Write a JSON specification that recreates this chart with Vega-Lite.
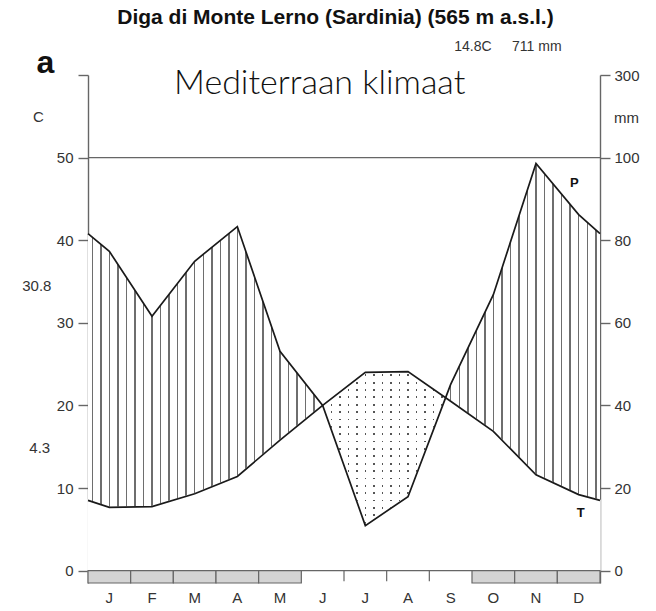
{
"$schema": "https://vega.github.io/schema/vega-lite/v6.json",
"width": 512, "height": 508,
"autosize": "none",
"padding": {"left": 88, "top": 75, "right": 56, "bottom": 28},
"background": "white",
"config": {"view": {"stroke": null}},
"datasets": {
 "main": [
  {"m": 0, "T": 8.5, "P": 81.6},
  {"m": 0.5, "T": 7.65, "P": 77.3},
  {"m": 1.5, "T": 7.75, "P": 61.6},
  {"m": 2.5, "T": 9.3, "P": 74.9},
  {"m": 3.5, "T": 11.4, "P": 83.3},
  {"m": 4.5, "T": 15.8, "P": 53.1},
  {"m": 5.5, "T": 20.0, "P": 40.0},
  {"m": 6.5, "T": 24.0, "P": 10.9},
  {"m": 7.5, "T": 24.1, "P": 17.9},
  {"m": 8.5, "T": 20.5, "P": 45.1},
  {"m": 9.5, "T": 16.85, "P": 66.8},
  {"m": 10.5, "T": 11.6, "P": 98.6},
  {"m": 11.5, "T": 9.2, "P": 86.2},
  {"m": 12, "T": 8.5, "P": 81.6}
 ],
 "arid": [
  {"m": 5.5, "T": 20.0, "P": 40.0},
  {"m": 6.5, "T": 24.0, "P": 10.9},
  {"m": 7.5, "T": 24.1, "P": 17.9},
  {"m": 8.38, "T": 20.93, "P": 41.86}
 ],
 "humid": [
  {"seg": "a", "m": 0, "T": 8.5},
  {"seg": "a", "m": 0.5, "T": 7.65},
  {"seg": "a", "m": 1.5, "T": 7.75},
  {"seg": "a", "m": 2.5, "T": 9.3},
  {"seg": "a", "m": 3.5, "T": 11.4},
  {"seg": "a", "m": 4.5, "T": 15.8},
  {"seg": "a", "m": 5.5, "T": 20.0},
  {"seg": "b", "m": 8.38, "T": 20.93},
  {"seg": "b", "m": 8.5, "T": 20.5},
  {"seg": "b", "m": 9.5, "T": 16.85},
  {"seg": "b", "m": 10.5, "T": 11.6},
  {"seg": "b", "m": 11.5, "T": 9.2},
  {"seg": "b", "m": 12, "T": 8.5}
 ],
 "months": [
  {"mon": "J", "c": 0.5}, {"mon": "F", "c": 1.5}, {"mon": "M", "c": 2.5}, {"mon": "A", "c": 3.5},
  {"mon": "M", "c": 4.5}, {"mon": "J", "c": 5.5}, {"mon": "J", "c": 6.5}, {"mon": "A", "c": 7.5},
  {"mon": "S", "c": 8.5}, {"mon": "O", "c": 9.5}, {"mon": "N", "c": 10.5}, {"mon": "D", "c": 11.5}
 ],
 "frost": [
  {"s": 0, "e": 1}, {"s": 1, "e": 2}, {"s": 2, "e": 3}, {"s": 3, "e": 4}, {"s": 4, "e": 5},
  {"s": 9, "e": 10}, {"s": 10, "e": 11}, {"s": 11, "e": 12}
 ],
 "bounds": [{"b": 6}, {"b": 7}, {"b": 8}]
},
"layer": [
 {"data": {"name": "main"},
  "mark": {"type": "area", "opacity": 1, "fill": {"gradient": "linear", "x1": 0, "y1": 0, "x2": 1, "y2": 0, "stops": [
{"offset":0.0070,"color":"#fff"},{"offset":0.0070,"color":"#6e6e6e"},{"offset":0.0098,"color":"#6e6e6e"},{"offset":0.0098,"color":"#fff"},
{"offset":0.0237,"color":"#fff"},{"offset":0.0237,"color":"#6e6e6e"},{"offset":0.0265,"color":"#6e6e6e"},{"offset":0.0265,"color":"#fff"},
{"offset":0.0403,"color":"#fff"},{"offset":0.0403,"color":"#6e6e6e"},{"offset":0.0432,"color":"#6e6e6e"},{"offset":0.0432,"color":"#fff"},
{"offset":0.0570,"color":"#fff"},{"offset":0.0570,"color":"#6e6e6e"},{"offset":0.0598,"color":"#6e6e6e"},{"offset":0.0598,"color":"#fff"},
{"offset":0.0737,"color":"#fff"},{"offset":0.0737,"color":"#6e6e6e"},{"offset":0.0765,"color":"#6e6e6e"},{"offset":0.0765,"color":"#fff"},
{"offset":0.0903,"color":"#fff"},{"offset":0.0903,"color":"#6e6e6e"},{"offset":0.0932,"color":"#6e6e6e"},{"offset":0.0932,"color":"#fff"},
{"offset":0.1070,"color":"#fff"},{"offset":0.1070,"color":"#6e6e6e"},{"offset":0.1098,"color":"#6e6e6e"},{"offset":0.1098,"color":"#fff"},
{"offset":0.1237,"color":"#fff"},{"offset":0.1237,"color":"#6e6e6e"},{"offset":0.1265,"color":"#6e6e6e"},{"offset":0.1265,"color":"#fff"},
{"offset":0.1403,"color":"#fff"},{"offset":0.1403,"color":"#6e6e6e"},{"offset":0.1432,"color":"#6e6e6e"},{"offset":0.1432,"color":"#fff"},
{"offset":0.1570,"color":"#fff"},{"offset":0.1570,"color":"#6e6e6e"},{"offset":0.1598,"color":"#6e6e6e"},{"offset":0.1598,"color":"#fff"},
{"offset":0.1737,"color":"#fff"},{"offset":0.1737,"color":"#6e6e6e"},{"offset":0.1765,"color":"#6e6e6e"},{"offset":0.1765,"color":"#fff"},
{"offset":0.1903,"color":"#fff"},{"offset":0.1903,"color":"#6e6e6e"},{"offset":0.1932,"color":"#6e6e6e"},{"offset":0.1932,"color":"#fff"},
{"offset":0.2070,"color":"#fff"},{"offset":0.2070,"color":"#6e6e6e"},{"offset":0.2098,"color":"#6e6e6e"},{"offset":0.2098,"color":"#fff"},
{"offset":0.2237,"color":"#fff"},{"offset":0.2237,"color":"#6e6e6e"},{"offset":0.2265,"color":"#6e6e6e"},{"offset":0.2265,"color":"#fff"},
{"offset":0.2403,"color":"#fff"},{"offset":0.2403,"color":"#6e6e6e"},{"offset":0.2432,"color":"#6e6e6e"},{"offset":0.2432,"color":"#fff"},
{"offset":0.2570,"color":"#fff"},{"offset":0.2570,"color":"#6e6e6e"},{"offset":0.2598,"color":"#6e6e6e"},{"offset":0.2598,"color":"#fff"},
{"offset":0.2737,"color":"#fff"},{"offset":0.2737,"color":"#6e6e6e"},{"offset":0.2765,"color":"#6e6e6e"},{"offset":0.2765,"color":"#fff"},
{"offset":0.2903,"color":"#fff"},{"offset":0.2903,"color":"#6e6e6e"},{"offset":0.2932,"color":"#6e6e6e"},{"offset":0.2932,"color":"#fff"},
{"offset":0.3070,"color":"#fff"},{"offset":0.3070,"color":"#6e6e6e"},{"offset":0.3098,"color":"#6e6e6e"},{"offset":0.3098,"color":"#fff"},
{"offset":0.3237,"color":"#fff"},{"offset":0.3237,"color":"#6e6e6e"},{"offset":0.3265,"color":"#6e6e6e"},{"offset":0.3265,"color":"#fff"},
{"offset":0.3403,"color":"#fff"},{"offset":0.3403,"color":"#6e6e6e"},{"offset":0.3432,"color":"#6e6e6e"},{"offset":0.3432,"color":"#fff"},
{"offset":0.3570,"color":"#fff"},{"offset":0.3570,"color":"#6e6e6e"},{"offset":0.3598,"color":"#6e6e6e"},{"offset":0.3598,"color":"#fff"},
{"offset":0.3737,"color":"#fff"},{"offset":0.3737,"color":"#6e6e6e"},{"offset":0.3765,"color":"#6e6e6e"},{"offset":0.3765,"color":"#fff"},
{"offset":0.3903,"color":"#fff"},{"offset":0.3903,"color":"#6e6e6e"},{"offset":0.3932,"color":"#6e6e6e"},{"offset":0.3932,"color":"#fff"},
{"offset":0.4070,"color":"#fff"},{"offset":0.4070,"color":"#6e6e6e"},{"offset":0.4098,"color":"#6e6e6e"},{"offset":0.4098,"color":"#fff"},
{"offset":0.4237,"color":"#fff"},{"offset":0.4237,"color":"#6e6e6e"},{"offset":0.4265,"color":"#6e6e6e"},{"offset":0.4265,"color":"#fff"},
{"offset":0.4403,"color":"#fff"},{"offset":0.4403,"color":"#6e6e6e"},{"offset":0.4432,"color":"#6e6e6e"},{"offset":0.4432,"color":"#fff"},
{"offset":0.4570,"color":"#fff"},{"offset":0.4570,"color":"#6e6e6e"},{"offset":0.4598,"color":"#6e6e6e"},{"offset":0.4598,"color":"#fff"},
{"offset":0.4737,"color":"#fff"},{"offset":0.4737,"color":"#6e6e6e"},{"offset":0.4765,"color":"#6e6e6e"},{"offset":0.4765,"color":"#fff"},
{"offset":0.4903,"color":"#fff"},{"offset":0.4903,"color":"#6e6e6e"},{"offset":0.4932,"color":"#6e6e6e"},{"offset":0.4932,"color":"#fff"},
{"offset":0.5070,"color":"#fff"},{"offset":0.5070,"color":"#6e6e6e"},{"offset":0.5098,"color":"#6e6e6e"},{"offset":0.5098,"color":"#fff"},
{"offset":0.5237,"color":"#fff"},{"offset":0.5237,"color":"#6e6e6e"},{"offset":0.5265,"color":"#6e6e6e"},{"offset":0.5265,"color":"#fff"},
{"offset":0.5403,"color":"#fff"},{"offset":0.5403,"color":"#6e6e6e"},{"offset":0.5432,"color":"#6e6e6e"},{"offset":0.5432,"color":"#fff"},
{"offset":0.5570,"color":"#fff"},{"offset":0.5570,"color":"#6e6e6e"},{"offset":0.5598,"color":"#6e6e6e"},{"offset":0.5598,"color":"#fff"},
{"offset":0.5737,"color":"#fff"},{"offset":0.5737,"color":"#6e6e6e"},{"offset":0.5765,"color":"#6e6e6e"},{"offset":0.5765,"color":"#fff"},
{"offset":0.5903,"color":"#fff"},{"offset":0.5903,"color":"#6e6e6e"},{"offset":0.5932,"color":"#6e6e6e"},{"offset":0.5932,"color":"#fff"},
{"offset":0.6070,"color":"#fff"},{"offset":0.6070,"color":"#6e6e6e"},{"offset":0.6098,"color":"#6e6e6e"},{"offset":0.6098,"color":"#fff"},
{"offset":0.6237,"color":"#fff"},{"offset":0.6237,"color":"#6e6e6e"},{"offset":0.6265,"color":"#6e6e6e"},{"offset":0.6265,"color":"#fff"},
{"offset":0.6403,"color":"#fff"},{"offset":0.6403,"color":"#6e6e6e"},{"offset":0.6432,"color":"#6e6e6e"},{"offset":0.6432,"color":"#fff"},
{"offset":0.6570,"color":"#fff"},{"offset":0.6570,"color":"#6e6e6e"},{"offset":0.6598,"color":"#6e6e6e"},{"offset":0.6598,"color":"#fff"},
{"offset":0.6737,"color":"#fff"},{"offset":0.6737,"color":"#6e6e6e"},{"offset":0.6765,"color":"#6e6e6e"},{"offset":0.6765,"color":"#fff"},
{"offset":0.6903,"color":"#fff"},{"offset":0.6903,"color":"#6e6e6e"},{"offset":0.6932,"color":"#6e6e6e"},{"offset":0.6932,"color":"#fff"},
{"offset":0.7070,"color":"#fff"},{"offset":0.7070,"color":"#6e6e6e"},{"offset":0.7098,"color":"#6e6e6e"},{"offset":0.7098,"color":"#fff"},
{"offset":0.7237,"color":"#fff"},{"offset":0.7237,"color":"#6e6e6e"},{"offset":0.7265,"color":"#6e6e6e"},{"offset":0.7265,"color":"#fff"},
{"offset":0.7403,"color":"#fff"},{"offset":0.7403,"color":"#6e6e6e"},{"offset":0.7432,"color":"#6e6e6e"},{"offset":0.7432,"color":"#fff"},
{"offset":0.7570,"color":"#fff"},{"offset":0.7570,"color":"#6e6e6e"},{"offset":0.7598,"color":"#6e6e6e"},{"offset":0.7598,"color":"#fff"},
{"offset":0.7737,"color":"#fff"},{"offset":0.7737,"color":"#6e6e6e"},{"offset":0.7765,"color":"#6e6e6e"},{"offset":0.7765,"color":"#fff"},
{"offset":0.7903,"color":"#fff"},{"offset":0.7903,"color":"#6e6e6e"},{"offset":0.7932,"color":"#6e6e6e"},{"offset":0.7932,"color":"#fff"},
{"offset":0.8070,"color":"#fff"},{"offset":0.8070,"color":"#6e6e6e"},{"offset":0.8098,"color":"#6e6e6e"},{"offset":0.8098,"color":"#fff"},
{"offset":0.8237,"color":"#fff"},{"offset":0.8237,"color":"#6e6e6e"},{"offset":0.8265,"color":"#6e6e6e"},{"offset":0.8265,"color":"#fff"},
{"offset":0.8403,"color":"#fff"},{"offset":0.8403,"color":"#6e6e6e"},{"offset":0.8432,"color":"#6e6e6e"},{"offset":0.8432,"color":"#fff"},
{"offset":0.8570,"color":"#fff"},{"offset":0.8570,"color":"#6e6e6e"},{"offset":0.8598,"color":"#6e6e6e"},{"offset":0.8598,"color":"#fff"},
{"offset":0.8737,"color":"#fff"},{"offset":0.8737,"color":"#6e6e6e"},{"offset":0.8765,"color":"#6e6e6e"},{"offset":0.8765,"color":"#fff"},
{"offset":0.8903,"color":"#fff"},{"offset":0.8903,"color":"#6e6e6e"},{"offset":0.8932,"color":"#6e6e6e"},{"offset":0.8932,"color":"#fff"},
{"offset":0.9070,"color":"#fff"},{"offset":0.9070,"color":"#6e6e6e"},{"offset":0.9098,"color":"#6e6e6e"},{"offset":0.9098,"color":"#fff"},
{"offset":0.9237,"color":"#fff"},{"offset":0.9237,"color":"#6e6e6e"},{"offset":0.9265,"color":"#6e6e6e"},{"offset":0.9265,"color":"#fff"},
{"offset":0.9403,"color":"#fff"},{"offset":0.9403,"color":"#6e6e6e"},{"offset":0.9432,"color":"#6e6e6e"},{"offset":0.9432,"color":"#fff"},
{"offset":0.9570,"color":"#fff"},{"offset":0.9570,"color":"#6e6e6e"},{"offset":0.9598,"color":"#6e6e6e"},{"offset":0.9598,"color":"#fff"},
{"offset":0.9737,"color":"#fff"},{"offset":0.9737,"color":"#6e6e6e"},{"offset":0.9765,"color":"#6e6e6e"},{"offset":0.9765,"color":"#fff"},
{"offset":0.9903,"color":"#fff"},{"offset":0.9903,"color":"#6e6e6e"},{"offset":0.9932,"color":"#6e6e6e"},{"offset":0.9932,"color":"#fff"}
  ]}},
  "encoding": {
   "x": {"field": "m", "type": "quantitative", "scale": {"domain": [0, 12], "nice": false, "zero": false}, "axis": null},
   "y": {"field": "P", "type": "quantitative", "scale": {"domain": [-3, 120], "nice": false, "zero": false}, "axis": null},
   "y2": {"datum": 0}
  }
 },
 {"data": {"name": "main"},
  "mark": {"type": "area", "opacity": 1, "fill": {"gradient": "linear", "x1": 0, "y1": 0, "x2": 1, "y2": 0, "stops": [
{"offset":0.0070,"color":"#fff"},{"offset":0.0070,"color":"#555"},{"offset":0.0098,"color":"#555"},{"offset":0.0098,"color":"#fff"},
{"offset":0.0237,"color":"#fff"},{"offset":0.0237,"color":"#555"},{"offset":0.0265,"color":"#555"},{"offset":0.0265,"color":"#fff"},
{"offset":0.0403,"color":"#fff"},{"offset":0.0403,"color":"#555"},{"offset":0.0432,"color":"#555"},{"offset":0.0432,"color":"#fff"},
{"offset":0.0570,"color":"#fff"},{"offset":0.0570,"color":"#555"},{"offset":0.0598,"color":"#555"},{"offset":0.0598,"color":"#fff"},
{"offset":0.0737,"color":"#fff"},{"offset":0.0737,"color":"#555"},{"offset":0.0765,"color":"#555"},{"offset":0.0765,"color":"#fff"},
{"offset":0.0903,"color":"#fff"},{"offset":0.0903,"color":"#555"},{"offset":0.0932,"color":"#555"},{"offset":0.0932,"color":"#fff"},
{"offset":0.1070,"color":"#fff"},{"offset":0.1070,"color":"#555"},{"offset":0.1098,"color":"#555"},{"offset":0.1098,"color":"#fff"},
{"offset":0.1237,"color":"#fff"},{"offset":0.1237,"color":"#555"},{"offset":0.1265,"color":"#555"},{"offset":0.1265,"color":"#fff"},
{"offset":0.1403,"color":"#fff"},{"offset":0.1403,"color":"#555"},{"offset":0.1432,"color":"#555"},{"offset":0.1432,"color":"#fff"},
{"offset":0.1570,"color":"#fff"},{"offset":0.1570,"color":"#555"},{"offset":0.1598,"color":"#555"},{"offset":0.1598,"color":"#fff"},
{"offset":0.1737,"color":"#fff"},{"offset":0.1737,"color":"#555"},{"offset":0.1765,"color":"#555"},{"offset":0.1765,"color":"#fff"},
{"offset":0.1903,"color":"#fff"},{"offset":0.1903,"color":"#555"},{"offset":0.1932,"color":"#555"},{"offset":0.1932,"color":"#fff"},
{"offset":0.2070,"color":"#fff"},{"offset":0.2070,"color":"#555"},{"offset":0.2098,"color":"#555"},{"offset":0.2098,"color":"#fff"},
{"offset":0.2237,"color":"#fff"},{"offset":0.2237,"color":"#555"},{"offset":0.2265,"color":"#555"},{"offset":0.2265,"color":"#fff"},
{"offset":0.2403,"color":"#fff"},{"offset":0.2403,"color":"#555"},{"offset":0.2432,"color":"#555"},{"offset":0.2432,"color":"#fff"},
{"offset":0.2570,"color":"#fff"},{"offset":0.2570,"color":"#555"},{"offset":0.2598,"color":"#555"},{"offset":0.2598,"color":"#fff"},
{"offset":0.2737,"color":"#fff"},{"offset":0.2737,"color":"#555"},{"offset":0.2765,"color":"#555"},{"offset":0.2765,"color":"#fff"},
{"offset":0.2903,"color":"#fff"},{"offset":0.2903,"color":"#555"},{"offset":0.2932,"color":"#555"},{"offset":0.2932,"color":"#fff"},
{"offset":0.3070,"color":"#fff"},{"offset":0.3070,"color":"#555"},{"offset":0.3098,"color":"#555"},{"offset":0.3098,"color":"#fff"},
{"offset":0.3237,"color":"#fff"},{"offset":0.3237,"color":"#555"},{"offset":0.3265,"color":"#555"},{"offset":0.3265,"color":"#fff"},
{"offset":0.3403,"color":"#fff"},{"offset":0.3403,"color":"#555"},{"offset":0.3432,"color":"#555"},{"offset":0.3432,"color":"#fff"},
{"offset":0.3570,"color":"#fff"},{"offset":0.3570,"color":"#555"},{"offset":0.3598,"color":"#555"},{"offset":0.3598,"color":"#fff"},
{"offset":0.3737,"color":"#fff"},{"offset":0.3737,"color":"#555"},{"offset":0.3765,"color":"#555"},{"offset":0.3765,"color":"#fff"},
{"offset":0.3903,"color":"#fff"},{"offset":0.3903,"color":"#555"},{"offset":0.3932,"color":"#555"},{"offset":0.3932,"color":"#fff"},
{"offset":0.4070,"color":"#fff"},{"offset":0.4070,"color":"#555"},{"offset":0.4098,"color":"#555"},{"offset":0.4098,"color":"#fff"},
{"offset":0.4237,"color":"#fff"},{"offset":0.4237,"color":"#555"},{"offset":0.4265,"color":"#555"},{"offset":0.4265,"color":"#fff"},
{"offset":0.4403,"color":"#fff"},{"offset":0.4403,"color":"#555"},{"offset":0.4432,"color":"#555"},{"offset":0.4432,"color":"#fff"},
{"offset":0.4570,"color":"#fff"},{"offset":0.4570,"color":"#555"},{"offset":0.4598,"color":"#555"},{"offset":0.4598,"color":"#fff"},
{"offset":0.4737,"color":"#fff"},{"offset":0.4737,"color":"#555"},{"offset":0.4765,"color":"#555"},{"offset":0.4765,"color":"#fff"},
{"offset":0.4903,"color":"#fff"},{"offset":0.4903,"color":"#555"},{"offset":0.4932,"color":"#555"},{"offset":0.4932,"color":"#fff"},
{"offset":0.5070,"color":"#fff"},{"offset":0.5070,"color":"#555"},{"offset":0.5098,"color":"#555"},{"offset":0.5098,"color":"#fff"},
{"offset":0.5237,"color":"#fff"},{"offset":0.5237,"color":"#555"},{"offset":0.5265,"color":"#555"},{"offset":0.5265,"color":"#fff"},
{"offset":0.5403,"color":"#fff"},{"offset":0.5403,"color":"#555"},{"offset":0.5432,"color":"#555"},{"offset":0.5432,"color":"#fff"},
{"offset":0.5570,"color":"#fff"},{"offset":0.5570,"color":"#555"},{"offset":0.5598,"color":"#555"},{"offset":0.5598,"color":"#fff"},
{"offset":0.5737,"color":"#fff"},{"offset":0.5737,"color":"#555"},{"offset":0.5765,"color":"#555"},{"offset":0.5765,"color":"#fff"},
{"offset":0.5903,"color":"#fff"},{"offset":0.5903,"color":"#555"},{"offset":0.5932,"color":"#555"},{"offset":0.5932,"color":"#fff"},
{"offset":0.6070,"color":"#fff"},{"offset":0.6070,"color":"#555"},{"offset":0.6098,"color":"#555"},{"offset":0.6098,"color":"#fff"},
{"offset":0.6237,"color":"#fff"},{"offset":0.6237,"color":"#555"},{"offset":0.6265,"color":"#555"},{"offset":0.6265,"color":"#fff"},
{"offset":0.6403,"color":"#fff"},{"offset":0.6403,"color":"#555"},{"offset":0.6432,"color":"#555"},{"offset":0.6432,"color":"#fff"},
{"offset":0.6570,"color":"#fff"},{"offset":0.6570,"color":"#555"},{"offset":0.6598,"color":"#555"},{"offset":0.6598,"color":"#fff"},
{"offset":0.6737,"color":"#fff"},{"offset":0.6737,"color":"#555"},{"offset":0.6765,"color":"#555"},{"offset":0.6765,"color":"#fff"},
{"offset":0.6903,"color":"#fff"},{"offset":0.6903,"color":"#555"},{"offset":0.6932,"color":"#555"},{"offset":0.6932,"color":"#fff"},
{"offset":0.7070,"color":"#fff"},{"offset":0.7070,"color":"#555"},{"offset":0.7098,"color":"#555"},{"offset":0.7098,"color":"#fff"},
{"offset":0.7237,"color":"#fff"},{"offset":0.7237,"color":"#555"},{"offset":0.7265,"color":"#555"},{"offset":0.7265,"color":"#fff"},
{"offset":0.7403,"color":"#fff"},{"offset":0.7403,"color":"#555"},{"offset":0.7432,"color":"#555"},{"offset":0.7432,"color":"#fff"},
{"offset":0.7570,"color":"#fff"},{"offset":0.7570,"color":"#555"},{"offset":0.7598,"color":"#555"},{"offset":0.7598,"color":"#fff"},
{"offset":0.7737,"color":"#fff"},{"offset":0.7737,"color":"#555"},{"offset":0.7765,"color":"#555"},{"offset":0.7765,"color":"#fff"},
{"offset":0.7903,"color":"#fff"},{"offset":0.7903,"color":"#555"},{"offset":0.7932,"color":"#555"},{"offset":0.7932,"color":"#fff"},
{"offset":0.8070,"color":"#fff"},{"offset":0.8070,"color":"#555"},{"offset":0.8098,"color":"#555"},{"offset":0.8098,"color":"#fff"},
{"offset":0.8237,"color":"#fff"},{"offset":0.8237,"color":"#555"},{"offset":0.8265,"color":"#555"},{"offset":0.8265,"color":"#fff"},
{"offset":0.8403,"color":"#fff"},{"offset":0.8403,"color":"#555"},{"offset":0.8432,"color":"#555"},{"offset":0.8432,"color":"#fff"},
{"offset":0.8570,"color":"#fff"},{"offset":0.8570,"color":"#555"},{"offset":0.8598,"color":"#555"},{"offset":0.8598,"color":"#fff"},
{"offset":0.8737,"color":"#fff"},{"offset":0.8737,"color":"#555"},{"offset":0.8765,"color":"#555"},{"offset":0.8765,"color":"#fff"},
{"offset":0.8903,"color":"#fff"},{"offset":0.8903,"color":"#555"},{"offset":0.8932,"color":"#555"},{"offset":0.8932,"color":"#fff"},
{"offset":0.9070,"color":"#fff"},{"offset":0.9070,"color":"#555"},{"offset":0.9098,"color":"#555"},{"offset":0.9098,"color":"#fff"},
{"offset":0.9237,"color":"#fff"},{"offset":0.9237,"color":"#555"},{"offset":0.9265,"color":"#555"},{"offset":0.9265,"color":"#fff"},
{"offset":0.9403,"color":"#fff"},{"offset":0.9403,"color":"#555"},{"offset":0.9432,"color":"#555"},{"offset":0.9432,"color":"#fff"},
{"offset":0.9570,"color":"#fff"},{"offset":0.9570,"color":"#555"},{"offset":0.9598,"color":"#555"},{"offset":0.9598,"color":"#fff"},
{"offset":0.9737,"color":"#fff"},{"offset":0.9737,"color":"#555"},{"offset":0.9765,"color":"#555"},{"offset":0.9765,"color":"#fff"},
{"offset":0.9903,"color":"#fff"},{"offset":0.9903,"color":"#555"},{"offset":0.9932,"color":"#555"},{"offset":0.9932,"color":"#fff"}
  ]}},
  "encoding": {
   "x": {"field": "m", "type": "quantitative", "scale": {"domain": [0, 12], "nice": false, "zero": false}, "axis": null},
   "y": {"field": "T", "type": "quantitative", "scale": {"domain": [-1.5, 60], "nice": false, "zero": false}, "axis": null},
   "y2": {"datum": 0}
  }
 },
 {"data": {"name": "main"},
  "mark": {"type": "area", "opacity": 1, "fill": {"gradient": "linear", "x1": 0, "y1": 0, "x2": 0, "y2": 1, "stops": [
{"offset":0.0140,"color":"#fff"},{"offset":0.0140,"color":"rgba(255,255,255,0)"},{"offset":0.0230,"color":"rgba(255,255,255,0)"},{"offset":0.0230,"color":"#fff"},
{"offset":0.0511,"color":"#fff"},{"offset":0.0511,"color":"rgba(255,255,255,0)"},{"offset":0.0601,"color":"rgba(255,255,255,0)"},{"offset":0.0601,"color":"#fff"},
{"offset":0.0881,"color":"#fff"},{"offset":0.0881,"color":"rgba(255,255,255,0)"},{"offset":0.0971,"color":"rgba(255,255,255,0)"},{"offset":0.0971,"color":"#fff"},
{"offset":0.1251,"color":"#fff"},{"offset":0.1251,"color":"rgba(255,255,255,0)"},{"offset":0.1341,"color":"rgba(255,255,255,0)"},{"offset":0.1341,"color":"#fff"},
{"offset":0.1622,"color":"#fff"},{"offset":0.1622,"color":"rgba(255,255,255,0)"},{"offset":0.1712,"color":"rgba(255,255,255,0)"},{"offset":0.1712,"color":"#fff"},
{"offset":0.1992,"color":"#fff"},{"offset":0.1992,"color":"rgba(255,255,255,0)"},{"offset":0.2082,"color":"rgba(255,255,255,0)"},{"offset":0.2082,"color":"#fff"},
{"offset":0.2362,"color":"#fff"},{"offset":0.2362,"color":"rgba(255,255,255,0)"},{"offset":0.2452,"color":"rgba(255,255,255,0)"},{"offset":0.2452,"color":"#fff"},
{"offset":0.2733,"color":"#fff"},{"offset":0.2733,"color":"rgba(255,255,255,0)"},{"offset":0.2823,"color":"rgba(255,255,255,0)"},{"offset":0.2823,"color":"#fff"},
{"offset":0.3103,"color":"#fff"},{"offset":0.3103,"color":"rgba(255,255,255,0)"},{"offset":0.3193,"color":"rgba(255,255,255,0)"},{"offset":0.3193,"color":"#fff"},
{"offset":0.3473,"color":"#fff"},{"offset":0.3473,"color":"rgba(255,255,255,0)"},{"offset":0.3564,"color":"rgba(255,255,255,0)"},{"offset":0.3564,"color":"#fff"},
{"offset":0.3844,"color":"#fff"},{"offset":0.3844,"color":"rgba(255,255,255,0)"},{"offset":0.3934,"color":"rgba(255,255,255,0)"},{"offset":0.3934,"color":"#fff"},
{"offset":0.4214,"color":"#fff"},{"offset":0.4214,"color":"rgba(255,255,255,0)"},{"offset":0.4304,"color":"rgba(255,255,255,0)"},{"offset":0.4304,"color":"#fff"},
{"offset":0.4585,"color":"#fff"},{"offset":0.4585,"color":"rgba(255,255,255,0)"},{"offset":0.4675,"color":"rgba(255,255,255,0)"},{"offset":0.4675,"color":"#fff"},
{"offset":0.4955,"color":"#fff"},{"offset":0.4955,"color":"rgba(255,255,255,0)"},{"offset":0.5045,"color":"rgba(255,255,255,0)"},{"offset":0.5045,"color":"#fff"},
{"offset":0.5325,"color":"#fff"},{"offset":0.5325,"color":"rgba(255,255,255,0)"},{"offset":0.5415,"color":"rgba(255,255,255,0)"},{"offset":0.5415,"color":"#fff"},
{"offset":0.5696,"color":"#fff"},{"offset":0.5696,"color":"rgba(255,255,255,0)"},{"offset":0.5786,"color":"rgba(255,255,255,0)"},{"offset":0.5786,"color":"#fff"},
{"offset":0.6066,"color":"#fff"},{"offset":0.6066,"color":"rgba(255,255,255,0)"},{"offset":0.6156,"color":"rgba(255,255,255,0)"},{"offset":0.6156,"color":"#fff"},
{"offset":0.6436,"color":"#fff"},{"offset":0.6436,"color":"rgba(255,255,255,0)"},{"offset":0.6527,"color":"rgba(255,255,255,0)"},{"offset":0.6527,"color":"#fff"},
{"offset":0.6807,"color":"#fff"},{"offset":0.6807,"color":"rgba(255,255,255,0)"},{"offset":0.6897,"color":"rgba(255,255,255,0)"},{"offset":0.6897,"color":"#fff"},
{"offset":0.7177,"color":"#fff"},{"offset":0.7177,"color":"rgba(255,255,255,0)"},{"offset":0.7267,"color":"rgba(255,255,255,0)"},{"offset":0.7267,"color":"#fff"},
{"offset":0.7548,"color":"#fff"},{"offset":0.7548,"color":"rgba(255,255,255,0)"},{"offset":0.7638,"color":"rgba(255,255,255,0)"},{"offset":0.7638,"color":"#fff"},
{"offset":0.7918,"color":"#fff"},{"offset":0.7918,"color":"rgba(255,255,255,0)"},{"offset":0.8008,"color":"rgba(255,255,255,0)"},{"offset":0.8008,"color":"#fff"},
{"offset":0.8288,"color":"#fff"},{"offset":0.8288,"color":"rgba(255,255,255,0)"},{"offset":0.8378,"color":"rgba(255,255,255,0)"},{"offset":0.8378,"color":"#fff"},
{"offset":0.8659,"color":"#fff"},{"offset":0.8659,"color":"rgba(255,255,255,0)"},{"offset":0.8749,"color":"rgba(255,255,255,0)"},{"offset":0.8749,"color":"#fff"},
{"offset":0.9029,"color":"#fff"},{"offset":0.9029,"color":"rgba(255,255,255,0)"},{"offset":0.9119,"color":"rgba(255,255,255,0)"},{"offset":0.9119,"color":"#fff"},
{"offset":0.9399,"color":"#fff"},{"offset":0.9399,"color":"rgba(255,255,255,0)"},{"offset":0.9489,"color":"rgba(255,255,255,0)"},{"offset":0.9489,"color":"#fff"},
{"offset":0.9770,"color":"#fff"},{"offset":0.9770,"color":"rgba(255,255,255,0)"},{"offset":0.9860,"color":"rgba(255,255,255,0)"},{"offset":0.9860,"color":"#fff"}
  ]}},
  "encoding": {
   "x": {"field": "m", "type": "quantitative", "scale": {"domain": [0, 12], "nice": false, "zero": false}, "axis": null},
   "y": {"field": "T", "type": "quantitative", "scale": {"domain": [-1.5, 60], "nice": false, "zero": false}, "axis": null},
   "y2": {"datum": 0}
  }
 },
 {"data": {"name": "arid"},
  "mark": {"type": "area", "opacity": 1, "fill": "#ffffff", "stroke": "#ffffff", "strokeWidth": 1.5},
  "encoding": {
   "x": {"field": "m", "type": "quantitative", "scale": {"domain": [0, 12], "nice": false, "zero": false}, "axis": null},
   "y": {"field": "P", "type": "quantitative", "scale": {"domain": [-3, 120], "nice": false, "zero": false}, "axis": null},
   "y2": {"datum": 0}
  }
 },
 {"data": {"name": "humid"},
  "mark": {"type": "area", "opacity": 1, "fill": "#ffffff", "stroke": "#ffffff", "strokeWidth": 1.5},
  "encoding": {
   "x": {"field": "m", "type": "quantitative", "scale": {"domain": [0, 12], "nice": false, "zero": false}, "axis": null},
   "y": {"field": "T", "type": "quantitative", "scale": {"domain": [-1.5, 60], "nice": false, "zero": false}, "axis": null},
   "y2": {"datum": 0},
   "detail": {"field": "seg", "type": "nominal"}
  }
 },
 {"data": {"values": [{}]},
  "mark": {"type": "rule", "color": "#666", "strokeWidth": 1.4},
  "encoding": {"y": {"datum": 50, "type": "quantitative", "scale": {"domain": [-1.5, 60], "nice": false, "zero": false}, "axis": null}}
 },
 {"data": {"values": [{}]},
  "mark": {"type": "rule", "color": "#666", "strokeWidth": 1.4},
  "encoding": {"y": {"datum": 0, "type": "quantitative", "scale": {"domain": [-1.5, 60], "nice": false, "zero": false}, "axis": null}}
 },
 {"data": {"name": "frost"},
  "mark": {"type": "rect", "fill": "#d4d4d4", "stroke": "#666", "strokeWidth": 1.2},
  "encoding": {
   "x": {"field": "s", "type": "quantitative", "scale": {"domain": [0, 12], "nice": false, "zero": false}, "axis": null},
   "x2": {"field": "e"},
   "y": {"datum": 0, "type": "quantitative", "scale": {"domain": [-1.5, 60], "nice": false, "zero": false}, "axis": null},
   "y2": {"datum": -1.5}
  }
 },
 {"data": {"name": "bounds"},
  "mark": {"type": "rule", "color": "#666", "strokeWidth": 1.2},
  "encoding": {
   "x": {"field": "b", "type": "quantitative", "scale": {"domain": [0, 12], "nice": false, "zero": false}, "axis": null},
   "y": {"datum": 0, "type": "quantitative", "scale": {"domain": [-1.5, 60], "nice": false, "zero": false}, "axis": null},
   "y2": {"datum": -1.3}
  }
 },
 {"data": {"name": "main"},
  "mark": {"type": "line", "color": "#1a1a1a", "strokeWidth": 1.7},
  "encoding": {
   "x": {"field": "m", "type": "quantitative", "scale": {"domain": [0, 12], "nice": false, "zero": false}, "axis": null},
   "y": {"field": "P", "type": "quantitative", "scale": {"domain": [-3, 120], "nice": false, "zero": false},
    "axis": {"orient": "right", "values": [0, 20, 40, 60, 80, 100, 120], "labelExpr": "datum.value == 120 ? '300' : datum.label",
     "title": null, "grid": false, "tickSize": 10, "tickWidth": 1.4, "tickColor": "#666", "domainColor": "#666", "domainWidth": 1.4,
     "labelFont": "Liberation Sans", "labelFontSize": 15, "labelColor": "#333", "labelPadding": 4, "labelFlush": false, "labelOverlap": false, "labelBound": false}}
  }
 },
 {"data": {"name": "main"},
  "mark": {"type": "line", "color": "#1a1a1a", "strokeWidth": 1.7},
  "encoding": {
   "x": {"field": "m", "type": "quantitative", "scale": {"domain": [0, 12], "nice": false, "zero": false}, "axis": null},
   "y": {"field": "T", "type": "quantitative", "scale": {"domain": [-1.5, 60], "nice": false, "zero": false},
    "axis": {"orient": "left", "values": [0, 10, 20, 30, 40, 50, 60], "labelExpr": "datum.value == 60 ? '' : datum.label",
     "title": null, "grid": false, "tickSize": 10, "tickWidth": 1.4, "tickColor": "#666", "domainColor": "#666", "domainWidth": 1.4,
     "labelFont": "Liberation Sans", "labelFontSize": 15, "labelColor": "#333", "labelPadding": 5, "labelFlush": false, "labelOverlap": false, "labelBound": false}}
  }
 },
 {"data": {"name": "months"},
  "mark": {"type": "text", "font": "Liberation Sans", "fontSize": 15, "color": "#333", "baseline": "middle", "align": "center"},
  "encoding": {
   "x": {"field": "c", "type": "quantitative", "scale": {"domain": [0, 12], "nice": false, "zero": false}, "axis": null},
   "y": {"datum": -3.3, "type": "quantitative", "scale": {"domain": [-1.5, 60], "nice": false, "zero": false}, "axis": null},
   "text": {"field": "mon"}
  }
 },
 {"data": {"values": [{}]},
  "mark": {"type": "text", "text": "Diga di Monte Lerno (Sardinia) (565 m a.s.l.)", "font": "Liberation Sans", "fontWeight": "bold", "fontSize": 21, "color": "#111", "baseline": "middle", "align": "center"},
  "encoding": {
   "x": {"datum": 5.8, "type": "quantitative", "scale": {"domain": [0, 12], "nice": false, "zero": false}, "axis": null},
   "y": {"datum": 66.9, "type": "quantitative", "scale": {"domain": [-1.5, 60], "nice": false, "zero": false}, "axis": null}
  }
 },
 {"data": {"values": [{}]},
  "mark": {"type": "text", "text": "a", "font": "Liberation Sans", "fontWeight": "bold", "fontSize": 32, "color": "#111", "baseline": "alphabetic", "align": "center"},
  "encoding": {
   "x": {"datum": -1.0, "type": "quantitative", "scale": {"domain": [0, 12], "nice": false, "zero": false}, "axis": null},
   "y": {"datum": 60.2, "type": "quantitative", "scale": {"domain": [-1.5, 60], "nice": false, "zero": false}, "axis": null}
  }
 },
 {"data": {"values": [{}]},
  "mark": {"type": "text", "text": "C", "font": "Liberation Sans", "fontSize": 15, "color": "#333", "baseline": "middle", "align": "center"},
  "encoding": {
   "x": {"datum": -1.16, "type": "quantitative", "scale": {"domain": [0, 12], "nice": false, "zero": false}, "axis": null},
   "y": {"datum": 54.9, "type": "quantitative", "scale": {"domain": [-1.5, 60], "nice": false, "zero": false}, "axis": null}
  }
 },
 {"data": {"values": [{}]},
  "mark": {"type": "text", "text": "30.8", "font": "Liberation Sans", "fontSize": 15, "color": "#333", "baseline": "middle", "align": "center"},
  "encoding": {
   "x": {"datum": -1.2, "type": "quantitative", "scale": {"domain": [0, 12], "nice": false, "zero": false}, "axis": null},
   "y": {"datum": 34.4, "type": "quantitative", "scale": {"domain": [-1.5, 60], "nice": false, "zero": false}, "axis": null}
  }
 },
 {"data": {"values": [{}]},
  "mark": {"type": "text", "text": "4.3", "font": "Liberation Sans", "fontSize": 15, "color": "#333", "baseline": "middle", "align": "center"},
  "encoding": {
   "x": {"datum": -1.13, "type": "quantitative", "scale": {"domain": [0, 12], "nice": false, "zero": false}, "axis": null},
   "y": {"datum": 14.8, "type": "quantitative", "scale": {"domain": [-1.5, 60], "nice": false, "zero": false}, "axis": null}
  }
 },
 {"data": {"values": [{}]},
  "mark": {"type": "text", "text": "P", "font": "Liberation Sans", "fontWeight": "bold", "fontSize": 13, "color": "#111", "baseline": "middle", "align": "center"},
  "encoding": {
   "x": {"datum": 11.4, "type": "quantitative", "scale": {"domain": [0, 12], "nice": false, "zero": false}, "axis": null},
   "y": {"datum": 46.9, "type": "quantitative", "scale": {"domain": [-1.5, 60], "nice": false, "zero": false}, "axis": null}
  }
 },
 {"data": {"values": [{}]},
  "mark": {"type": "text", "text": "T", "font": "Liberation Sans", "fontWeight": "bold", "fontSize": 13, "color": "#111", "baseline": "middle", "align": "center"},
  "encoding": {
   "x": {"datum": 11.55, "type": "quantitative", "scale": {"domain": [0, 12], "nice": false, "zero": false}, "axis": null},
   "y": {"datum": 7.0, "type": "quantitative", "scale": {"domain": [-1.5, 60], "nice": false, "zero": false}, "axis": null}
  }
 },
 {"data": {"values": [{}]},
  "mark": {"type": "text", "text": "mm", "font": "Liberation Sans", "fontSize": 15, "color": "#333", "baseline": "middle", "align": "left"},
  "encoding": {
   "x": {"datum": 12.33, "type": "quantitative", "scale": {"domain": [0, 12], "nice": false, "zero": false}, "axis": null},
   "y": {"datum": 54.8, "type": "quantitative", "scale": {"domain": [-1.5, 60], "nice": false, "zero": false}, "axis": null}
  }
 },
 {"data": {"values": [{}]},
  "mark": {"type": "text", "text": "14.8C", "font": "Liberation Sans", "fontSize": 14, "color": "#333", "baseline": "middle", "align": "right"},
  "encoding": {
   "x": {"datum": 9.46, "type": "quantitative", "scale": {"domain": [0, 12], "nice": false, "zero": false}, "axis": null},
   "y": {"datum": 63.4, "type": "quantitative", "scale": {"domain": [-1.5, 60], "nice": false, "zero": false}, "axis": null}
  }
 },
 {"data": {"values": [{}]},
  "mark": {"type": "text", "text": "711 mm", "font": "Liberation Sans", "fontSize": 14, "color": "#333", "baseline": "middle", "align": "right"},
  "encoding": {
   "x": {"datum": 11.1, "type": "quantitative", "scale": {"domain": [0, 12], "nice": false, "zero": false}, "axis": null},
   "y": {"datum": 63.4, "type": "quantitative", "scale": {"domain": [-1.5, 60], "nice": false, "zero": false}, "axis": null}
  }
 },
 {"data": {"values": [{}]},
  "mark": {"type": "text", "text": "Mediterraan klimaat", "font": "Lato", "fontWeight": 300, "fontSize": 34, "color": "#111", "baseline": "middle", "align": "center"},
  "encoding": {
   "x": {"datum": 5.43, "type": "quantitative", "scale": {"domain": [0, 12], "nice": false, "zero": false}, "axis": null},
   "y": {"datum": 58.9, "type": "quantitative", "scale": {"domain": [-1.5, 60], "nice": false, "zero": false}, "axis": null}
  }
 }
],
"resolve": {"scale": {"y": "independent"}, "axis": {"y": "independent"}}
}
